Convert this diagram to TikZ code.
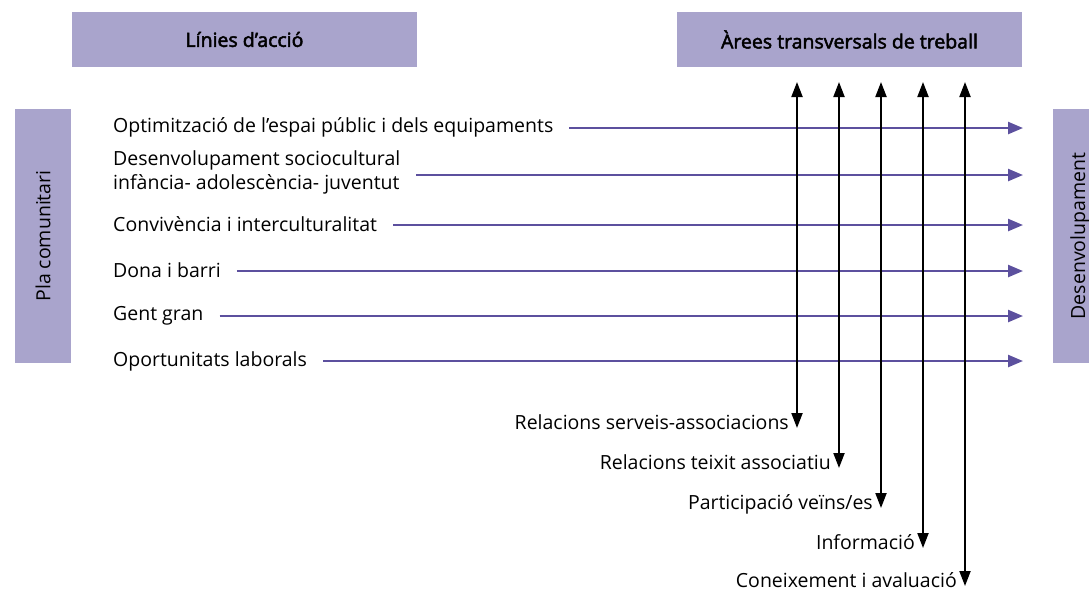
\documentclass[tikz,border=0pt]{standalone}
\usepackage{fontspec}
\setmainfont{Open Sans}
\newfontfamily\capfont[FakeBold=2.5]{Open Sans}
\usetikzlibrary{positioning,arrows.meta}
\definecolor{lila}{HTML}{A9A4CC}
\definecolor{violeta}{HTML}{5C509E}
\tikzset{caixa/.style={fill=lila, inner sep=0pt, font=\capfont\fontsize{19.5}{24}\selectfont},
  etiq/.style={inner sep=0pt, font=\fontsize{19.5}{24}\selectfont},
  linia/.style={violeta, line width=2.4pt, -{Triangle[length=15pt,width=12pt]}},
  area/.style={black, line width=2pt, {Triangle[length=15pt,width=11pt]}-{Triangle[length=15pt,width=11pt]}}}

\begin{document}
\begin{tikzpicture}[x=1pt,y=-1pt]
\useasboundingbox (0,0) rectangle (1089,592);

  % capçaleres
\node[caixa, minimum width=345pt, minimum height=55pt] (linies) at (244.5,39.5) {Línies d’acció};
\node[caixa, minimum width=345pt, minimum height=55pt] (arees) at (849.5,39.5) {Àrees transversals de treball};
\node[caixa, minimum width=56pt, minimum height=254pt] (pla) at (43,236) {};
\node[etiq, rotate=90] (platxt) at (pla.center) {Pla comunitari};
\fill[lila] (1053,109) rectangle (1089,363);
\node[etiq, rotate=90] (desen) at (1080,236) {Desenvolupament};

  % línies d'acció
\foreach \n/\y/\ya/\txt in {a/127/128/{Optimització de l’espai públic i dels equipaments},
  b/172/175/{Desenvolupament sociocultural\\infància- adolescència- juventut},
  c/224/225/{Convivència i interculturalitat},
  d/270/271/{Dona i barri},
  e/316/316/{Gent gran},
  f/361/361/{Oportunitats laborals}}
{
  \node[etiq, anchor=west, align=left] (l\n) at (113,\y) {\txt};
  \coordinate (f\n) at (1023,\ya);
  \draw[linia] ([xshift=16pt]l\n.east |- f\n) -- (f\n);
}

  % àrees transversals
\foreach \n/\x/\y/\txt in {1/797/428/{Relacions serveis-associacions},
  2/839/468/{Relacions teixit associatiu},
  3/881/508/{Participació veïns/es},
  4/923/548/{Informació},
  5/965/586/{Coneixement i avaluació}}
{
  \coordinate (t\n) at (\x,82);
  \coordinate (b\n) at (\x,\y);
  \draw[area] (t\n) -- (b\n);
  \node[etiq, anchor=base east] (r\n) at ([xshift=-8pt,yshift=-1pt]b\n) {\txt};
}
\end{tikzpicture}
\end{document}
